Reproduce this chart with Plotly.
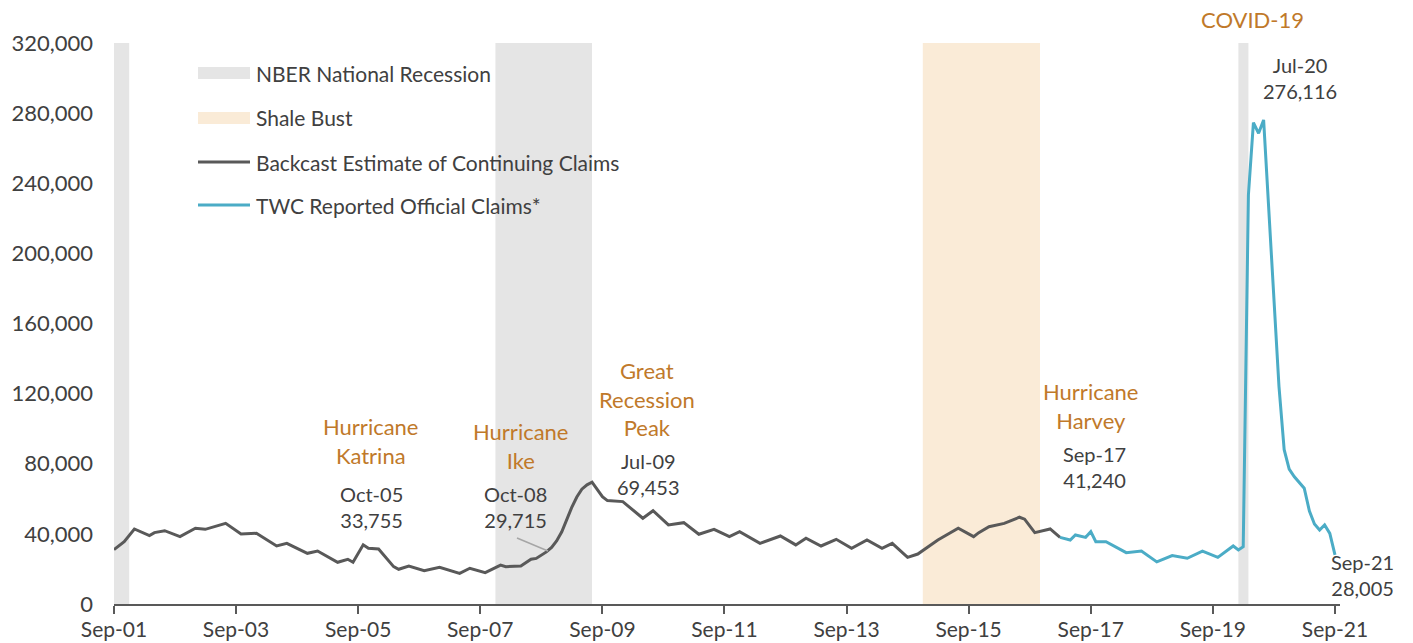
import plotly.graph_objects as go

# Backcast estimate of continuing claims (month, claims)
backcast_months = [
    "2001-09", "2001-11", "2002-01", "2002-04", "2002-05", "2002-07", "2002-10",
    "2003-01", "2003-03", "2003-07", "2003-10", "2004-01", "2004-05", "2004-07",
    "2004-11", "2005-01", "2005-05", "2005-07", "2005-08", "2005-10", "2005-11",
    "2006-01", "2006-04", "2006-05", "2006-07", "2006-10", "2007-01", "2007-05",
    "2007-07", "2007-10", "2008-01", "2008-02", "2008-05", "2008-07", "2008-08",
    "2008-10", "2008-11", "2008-12", "2009-01", "2009-02", "2009-03", "2009-04",
    "2009-05", "2009-06", "2009-07", "2009-09", "2009-10", "2010-01", "2010-05",
    "2010-07", "2010-10", "2011-01", "2011-04", "2011-07", "2011-10", "2011-12",
    "2012-04", "2012-08", "2012-11", "2013-01", "2013-04", "2013-07", "2013-10",
    "2014-01", "2014-04", "2014-06", "2014-09", "2014-11", "2015-03", "2015-07",
    "2015-10", "2015-11", "2016-01", "2016-04", "2016-07", "2016-08", "2016-10",
    "2017-01", "2017-03",
]
backcast_claims = [
    31000, 35500, 42800, 39000, 40700, 41800, 38400,
    43200, 42600, 46000, 40000, 40300, 33100, 34600,
    28900, 30200, 23800, 25500, 23800, 33755, 31800,
    31400, 21300, 19800, 21700, 19000, 20900, 17500,
    20400, 17900, 22200, 21300, 21700, 25500, 26000,
    29715, 32300, 36000, 41200, 48500, 55000, 61000,
    65500, 68000, 69453, 61200, 59000, 58400, 48900,
    53200, 45100, 46400, 39800, 42600, 38400, 41200,
    34600, 38800, 33700, 37500, 33100, 36900, 31800,
    36500, 31800, 34600, 26600, 28500, 36500, 43200,
    38400, 40700, 44100, 46000, 49500, 48400, 40700,
    42800, 38000,
]

# TWC reported official claims
twc_months = [
    "2017-03", "2017-05", "2017-06", "2017-08", "2017-09", "2017-10", "2017-12",
    "2018-04", "2018-07", "2018-10", "2019-01", "2019-04", "2019-07", "2019-10",
    "2020-01", "2020-02", "2020-03", "2020-04", "2020-05", "2020-06", "2020-07",
    "2020-08", "2020-09", "2020-10", "2020-11", "2020-12", "2021-01", "2021-02",
    "2021-03", "2021-04", "2021-05", "2021-06", "2021-07", "2021-08", "2021-09",
]
twc_claims = [
    38000, 36500, 39400, 38000, 41240, 35500, 35500,
    29300, 30200, 24000, 27600, 26100, 30200, 26600,
    33100, 30800, 32700, 233300, 274600, 268500, 276116,
    225000, 175000, 124000, 88000, 77000, 72600, 68800,
    66000, 53000, 45600, 42200, 45100, 40300, 28005,
]

# shaded periods
recession_starts = ["2001-09-01", "2007-12-01", "2020-02-01"]
recession_ends = ["2001-12-01", "2009-07-01", "2020-04-01"]
shale_start, shale_end = "2014-12-01", "2016-11-01"

GREY_BAND = "#E5E5E5"
SHALE = "#FAEBD7"
DARK = "#595959"
BLUE = "#4BACC6"
ORANGE = "#C0792A"
TEXT = "#404040"
FONT = "Lato"

# plot area in page pixels
L, R, T, B = 114, 1340, 43, 604


def px(x):
    return (x - L) / (R - L)


def py(y):
    return (B - y) / (B - T)


fig = go.Figure()

for x0, x1 in zip(recession_starts, recession_ends):
    fig.add_vrect(x0=x0, x1=x1, fillcolor=GREY_BAND, line_width=0, layer="below")
fig.add_vrect(x0=shale_start, x1=shale_end, fillcolor=SHALE, line_width=0, layer="below")

fig.add_trace(go.Scatter(x=backcast_months, y=backcast_claims, mode="lines",
                         line=dict(color=DARK, width=3), showlegend=False))
fig.add_trace(go.Scatter(x=twc_months, y=twc_claims, mode="lines",
                         line=dict(color=BLUE, width=3), showlegend=False))

# hand-made legend
leg_rows = [
    ("NBER National Recession", "rect", GREY_BAND, 73),
    ("Shale Bust", "rect", SHALE, 118),
    ("Backcast Estimate of Continuing Claims", "line", DARK, 162),
    ("TWC Reported Official Claims*", "line", BLUE, 205),
]
for label, kind, color, yy in leg_rows:
    if kind == "rect":
        fig.add_shape(type="rect", xref="paper", yref="paper", x0=px(198), x1=px(250),
                      y0=py(yy + 6), y1=py(yy - 6), fillcolor=color, line_width=0)
    else:
        fig.add_shape(type="line", xref="paper", yref="paper", x0=px(198), x1=px(250),
                      y0=py(yy), y1=py(yy), line=dict(color=color, width=3))
    fig.add_annotation(text=label, xref="paper", yref="paper", x=px(254), y=py(yy),
                       xanchor="left", yanchor="middle", showarrow=False,
                       font=dict(size=21, color=TEXT))

# labels: (text, centre x, centre y, colour)
labels = [
    ("Hurricane<br>Katrina", 371, 441, ORANGE),
    ("Oct-05<br>33,755", 371, 507, TEXT),
    ("Hurricane<br>Ike", 521, 446, ORANGE),
    ("Oct-08<br>29,715", 515, 507, TEXT),
    ("Great<br>Recession<br>Peak", 647, 399, ORANGE),
    ("Jul-09<br>69,453", 648, 474, TEXT),
    ("Hurricane<br>Harvey", 1091, 406, ORANGE),
    ("Sep-17<br>41,240", 1094, 467, TEXT),
    ("COVID-19", 1252, 19, ORANGE),
    ("Jul-20<br>276,116", 1300, 78, TEXT),
    ("Sep-21<br>28,005", 1362, 575, TEXT),
]
for txt, xx, yy, col in labels:
    fig.add_annotation(text=txt, xref="paper", yref="paper", x=px(xx), y=py(yy),
                       xanchor="center", yanchor="middle", showarrow=False,
                       font=dict(size=22 if col == ORANGE else 20, color=col))

# leader line for Ike
fig.add_shape(type="line", xref="paper", yref="paper", x0=px(517), y0=py(538),
              x1=px(548), y1=py(551), line=dict(color="#A6A6A6", width=1.5))

fig.update_layout(
    width=1413, height=643,
    margin=dict(l=L, r=1413 - R, t=T, b=643 - B),
    plot_bgcolor="white", paper_bgcolor="white",
    font=dict(family=FONT, size=22, color=TEXT),
    showlegend=False,
)
fig.update_xaxes(range=["2001-09-01", "2021-10-01"], tick0="2001-09-01", dtick="M24",
                 tickformat="%b-%y", showgrid=False, showline=True, linecolor=DARK,
                 linewidth=2, ticks="outside", ticklen=8, tickwidth=2, tickcolor=DARK,
                 tickfont=dict(size=21, color=TEXT), ticklabelstandoff=-2,
                 automargin=False)
fig.update_yaxes(range=[0, 320000], dtick=40000, tickformat=",", showgrid=False,
                 zeroline=False, showline=False, ticklabelstandoff=20,
                 tickfont=dict(size=22, color=TEXT), automargin=False)

fig.write_html(
    "out.html",
    config={"displayModeBar": False},
    post_script="document.body.style.margin='0';document.body.style.overflow='hidden';",
)
